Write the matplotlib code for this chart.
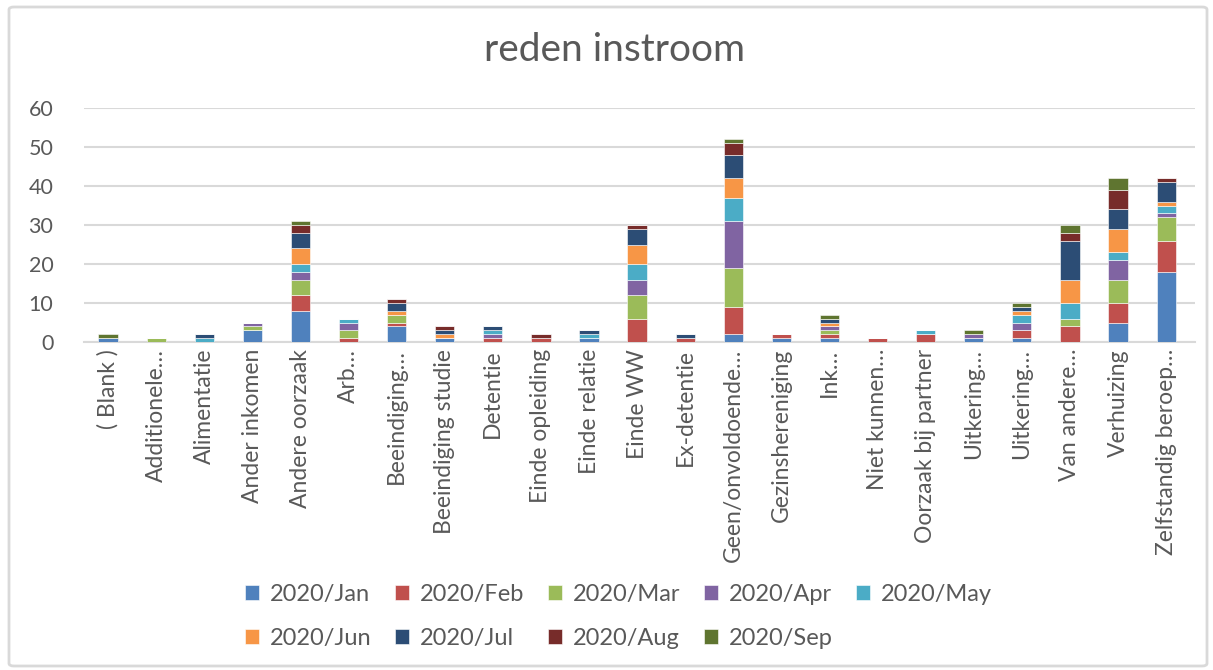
import matplotlib.pyplot as plt
from matplotlib.patches import FancyBboxPatch
import numpy as np

plt.rcParams['font.family'] = ['Lato', 'DejaVu Sans']

categories = ['( Blank )', 'Additionele…', 'Alimentatie', 'Ander inkomen', 'Andere oorzaak',
              'Arb…', 'Beeindiging…', 'Beeindiging studie', 'Detentie', 'Einde opleiding',
              'Einde relatie', 'Einde WW', 'Ex-detentie', 'Geen/onvoldoende…', 'Gezinshereniging',
              'Ink…', 'Niet kunnen…', 'Oorzaak bij partner', 'Uitkering…', 'Uitkering…',
              'Van andere…', 'Verhuizing', 'Zelfstandig beroep…']

months = ['2020/Jan', '2020/Feb', '2020/Mar', '2020/Apr', '2020/May',
          '2020/Jun', '2020/Jul', '2020/Aug', '2020/Sep']

jan = [1, 0, 0, 3, 8, 0, 4, 1, 0, 0, 1, 0, 0, 2, 1, 1, 0, 0, 1, 1, 0, 5, 18]
feb = [0, 0, 0, 0, 4, 1, 1, 0, 1, 1, 0, 6, 1, 7, 1, 1, 1, 2, 0, 2, 4, 5, 8]
mar = [0, 1, 0, 1, 4, 2, 2, 0, 0, 0, 0, 6, 0, 10, 0, 1, 0, 0, 0, 0, 2, 6, 6]
apr = [0, 0, 0, 1, 2, 2, 0, 0, 1, 0, 0, 4, 0, 12, 0, 1, 0, 0, 1, 2, 0, 5, 1]
may = [0, 0, 1, 0, 2, 1, 0, 0, 1, 0, 1, 4, 0, 6, 0, 0, 0, 1, 0, 2, 4, 2, 2]
jun = [0, 0, 0, 0, 4, 0, 1, 1, 0, 0, 0, 5, 0, 5, 0, 1, 0, 0, 0, 1, 6, 6, 1]
jul = [0, 0, 1, 0, 4, 0, 2, 1, 1, 0, 1, 4, 1, 6, 0, 1, 0, 0, 0, 1, 10, 5, 5]
aug = [0, 0, 0, 0, 2, 0, 1, 1, 0, 1, 0, 1, 0, 3, 0, 0, 0, 0, 0, 0, 2, 5, 1]
sep = [1, 0, 0, 0, 1, 0, 0, 0, 0, 0, 0, 0, 0, 1, 0, 1, 0, 0, 1, 1, 2, 3, 0]

series = [jan, feb, mar, apr, may, jun, jul, aug, sep]
colors = ['#4F81BD', '#C0504D', '#9BBB59', '#8064A2', '#4BACC6',
          '#F79646', '#2C4D75', '#772C2A', '#5F7530']

txt = '#595959'

fig = plt.figure(figsize=(12.13, 6.70), dpi=100)
ax = fig.add_axes([84 / 1213, 328 / 670, (1195 - 84) / 1213, 234 / 670])

# rand om de grafiek
fig.patches.append(FancyBboxPatch((9 / 1213, 4 / 670), 1198 / 1213, 659 / 670,
                                  boxstyle='round,pad=0,rounding_size=0.004',
                                  transform=fig.transFigure, fill=False,
                                  edgecolor='#d9d9d9', linewidth=2))

x = np.arange(len(categories))
bottom = np.zeros(len(categories))
bars = []
for vals, col, lab in zip(series, colors, months):
    b = ax.bar(x, vals, 0.4, bottom=bottom, color=col, label=lab,
               edgecolor='white', linewidth=0.4, zorder=3)
    bars.append(b)
    bottom += np.array(vals)

ax.set_xlim(-0.5, len(categories) - 0.4)
ax.set_ylim(0, 60)
ax.set_yticks(range(0, 61, 10))
ax.yaxis.grid(True, color='#d9d9d9', linewidth=1.5, zorder=0)
for s in ['top', 'right', 'left']:
    ax.spines[s].set_visible(False)
ax.spines['bottom'].set_color('#d9d9d9')
ax.spines['bottom'].set_linewidth(1.5)
ax.tick_params(axis='both', length=0, colors=txt)
ax.tick_params(axis='y', pad=22, labelsize=15.5)
ax.tick_params(axis='x', labelsize=16.5, pad=5)
ax.set_xticks(x)
ax.set_xticklabels(categories, rotation=90, va='top', ha='center')

fig.text(0.507, 0.925, 'reden instroom', ha='center', va='center', fontsize=28, color=txt)

# legenda rij voor rij: Jan..May boven, Jun..Sep onder
order = [0, 5, 1, 6, 2, 7, 3, 8, 4]
fig.legend([bars[i] for i in order], [months[i] for i in order],
           loc='center', bbox_to_anchor=(0.51, 0.08), ncol=5, frameon=False,
           fontsize=17, labelcolor=txt, handlelength=0.6, handleheight=0.6,
           handletextpad=0.45, columnspacing=1.0, labelspacing=1.0)

fig.savefig('out.png', dpi=100)
